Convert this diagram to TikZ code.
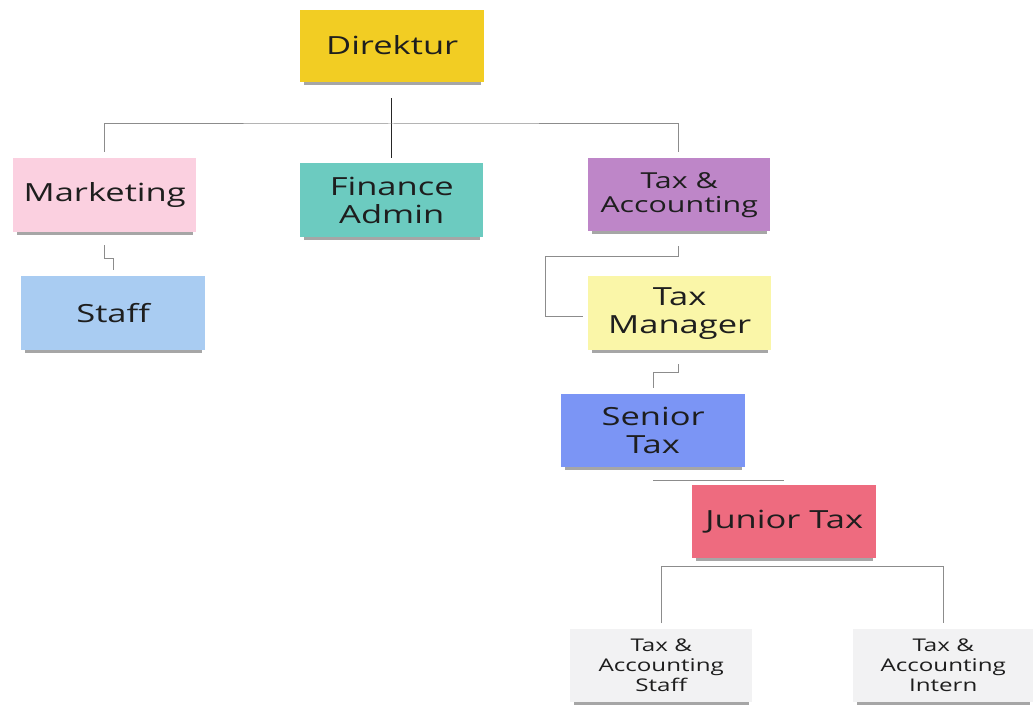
\documentclass[tikz,border=0pt]{standalone}
\usepackage{fontspec}
\setmainfont{Open Sans}[FakeStretch=1.38]
\usetikzlibrary{shadows,calc}
\definecolor{cDir}{HTML}{F2CD23}
\definecolor{cMkt}{HTML}{FBD0E0}
\definecolor{cFin}{HTML}{6CCBC0}
\definecolor{cTna}{HTML}{BE86C8}
\definecolor{cTm}{HTML}{FAF6A8}
\definecolor{cSt}{HTML}{7B95F5}
\definecolor{cJt}{HTML}{EE6B7F}
\definecolor{cStaff}{HTML}{A9CCF2}
\definecolor{cGray}{HTML}{F2F2F3}
\definecolor{cTxt}{HTML}{1E1E1E}
\definecolor{cLine}{HTML}{8C8C8C}
\tikzset{
  note/.style={anchor=north west, inner sep=0pt, align=center, text=cTxt,
    font=\fontsize{25}{28}\selectfont,
    drop shadow={shadow xshift=0pt, shadow yshift=-4pt, shadow scale=0.96, opacity=0.35, fill=black}},
  small/.style={font=\fontsize{22}{24}\selectfont},
  tiny/.style={font=\fontsize{17.5}{20}\selectfont},
  link/.style={draw=cLine, line width=1pt},
  mainlink/.style={draw=black!85, line width=1.3pt}
}
\begin{document}
\begin{tikzpicture}[x=1pt,y=1pt]
\useasboundingbox[fill=white] (0,0) rectangle (1033,-708);
\node[note, fill=cDir, minimum width=184pt, minimum height=72pt] (dir) at (300,-10) {\raisebox{3pt}{Direktur}};
\node[note, fill=cMkt, minimum width=183pt, minimum height=74pt] (mkt) at (13,-158) {\raisebox{4pt}{Marketing}};
\node[note, fill=cFin, minimum width=183pt, minimum height=74pt] (fin) at (300,-163) {Finance\\Admin};
\node[note, small, fill=cTna, minimum width=182pt, minimum height=73pt] (tna) at (588,-158) {Tax \&\\Accounting};
\node[note, fill=cTm, minimum width=183pt, minimum height=74pt] (tm) at (588,-276) {Tax\\Manager};
\node[note, fill=cSt, minimum width=184pt, minimum height=73pt] (st) at (561,-394) {Senior\\Tax};
\node[note, fill=cJt, minimum width=184pt, minimum height=73pt] (jt) at (692,-485) {Junior Tax};
\node[note, fill=cStaff, minimum width=184pt, minimum height=74pt] (staff) at (21,-276) {Staff};
\node[note, tiny, fill=cGray, minimum width=182pt, minimum height=73pt] (tas) at (570,-629) {Tax \&\\Accounting\\Staff};
\node[note, tiny, fill=cGray, minimum width=180pt, minimum height=73pt] (tai) at (853,-629) {Tax \&\\Accounting\\Intern};

% Direktur to first level
\coordinate (hub) at (391,-124);
\draw[mainlink] ([xshift=-1pt,yshift=-16pt]dir.south) -- ([xshift=-0.5pt,yshift=5pt]fin.north);
\draw[link] ([xshift=-0.5pt,yshift=6pt]mkt.north) |- (hub) -| ([xshift=-1pt,yshift=6pt]tna.north);

% Marketing to Staff
\coordinate (m1) at ([xshift=-0.5pt,yshift=-13pt]mkt.south);
\draw[link] (m1) -- ++(0,-13pt) -| ([yshift=6pt]staff.north);

% Tax & Accounting to Tax Manager
\coordinate (c1) at (545,-257);
\draw[link] ([xshift=-1pt,yshift=-15pt]tna.south) |- (c1) |- ([xshift=-5pt,yshift=-3pt]tm.west);

% Tax Manager to Senior Tax
\draw[link] ([xshift=-1.5pt,yshift=-14pt]tm.south) -- ++(0,-8pt) -| ([yshift=6pt]st.north);

% Senior Tax to Junior Tax
\coordinate (s1) at ([yshift=-13pt]st.south);
\draw[link] (s1) -- (s1 -| jt.north);

% Junior Tax to bottom
\coordinate (j1) at ([yshift=-8pt]jt.south);
\draw[link] ([yshift=6pt]tas.north) |- (j1) -| ([yshift=6pt]tai.north);
\end{tikzpicture}
\end{document}
